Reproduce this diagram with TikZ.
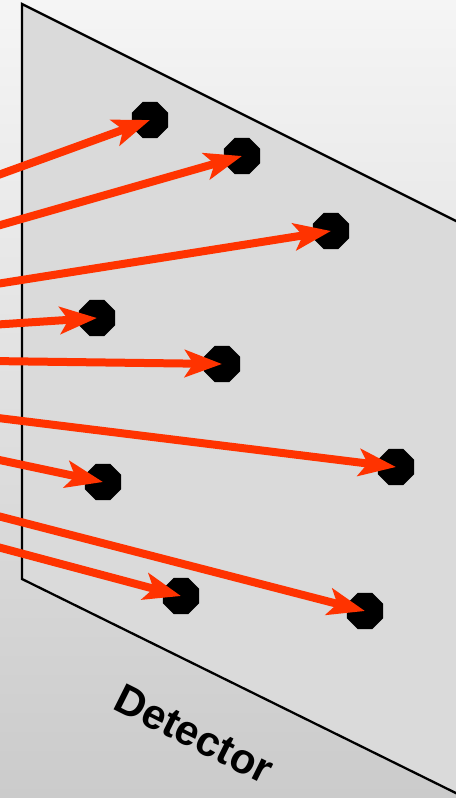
\documentclass[tikz,border=0pt]{standalone}
\usepackage{fontspec}
\setmainfont{Liberation Sans}
\usepackage{xcolor}
\usepackage{tikz}
\usetikzlibrary{
  positioning, arrows.meta, shapes.geometric
}
\definecolor{rayred}{HTML}{FF3300}
\definecolor{detgray}{HTML}{DADADA}
\definecolor{bgtop}{HTML}{F5F5F5}
\definecolor{bgbottom}{HTML}{CBCBCB}

\begin{document}
\begin{tikzpicture}[
  x=0.02cm, y=-0.02cm,
  hit/.style={
    regular polygon, regular polygon sides=8, fill=black,
    minimum size=0.78cm, inner sep=0pt
  },
  ray/.style={
    draw=rayred, line width=0.16cm,
    -{Stealth[length=0.74cm, width=0.54cm, inset=0.17cm]}
  },
  dettext/.style={font=\fontsize{24}{28}\selectfont\bfseries, rotate=-26.6},
]
\useasboundingbox (0,0) rectangle (456,798);

% background
\shade[top color=bgtop, bottom color=bgbottom] (0,0) rectangle (456,798);

% detector plate
\draw[fill=detgray, line width=1.3pt, line join=miter]
  (22,4) -- (470,228) -- (470,800) -- (22,579) -- cycle;
\node[dettext] (det) at (194,734) {Detector};

% hits on the detector
\node[hit] (d1) at (150,120) {};
\node[hit] (d2) at (242,156) {};
\node[hit] (d3) at (331,231) {};
\node[hit] (d4) at (97,318) {};
\node[hit] (d5) at (222,364) {};
\node[hit] (d6) at (396,467) {};
\node[hit] (d7) at (103,482) {};
\node[hit] (d8) at (181,596) {};
\node[hit] (d9) at (365,611) {};

% incoming rays
\coordinate (s1) at (-10,178);
\coordinate (s2) at (-10,228);
\coordinate (s3) at (-10,285);
\coordinate (s4) at (-10,325);
\coordinate (s5) at (-10,361);
\coordinate (s6) at (-10,417);
\coordinate (s7) at (-10,458);
\coordinate (s8) at (-10,545);
\coordinate (s9) at (-10,514);

\foreach \i in {1,...,9}
  \draw[ray] (s\i) -- (d\i.center);

\end{tikzpicture}
\end{document}
